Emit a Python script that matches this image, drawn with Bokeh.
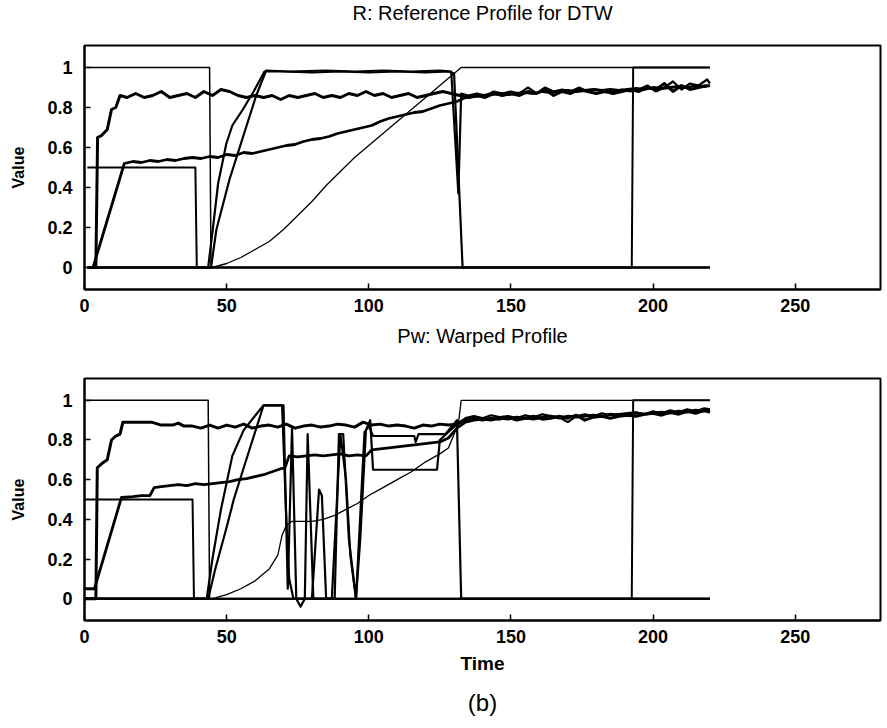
from bokeh.plotting import figure
from bokeh.layouts import column
from bokeh.models import Range1d, FixedTicker, Title, CustomJSTickFormatter
from bokeh.core.properties import value
from bokeh.embed import file_html
from bokeh.resources import INLINE

# ---------------- data: R (reference profile) ----------------
A_top_x = [1, 44, 44.5, 220]
A_top_y = [1, 1, 0, 0]
B_top_x = [1, 39, 39.5, 220]
B_top_y = [0.5, 0.5, 0, 0]
G_top_x = [1, 192.5, 193, 220]
G_top_y = [0, 0, 1, 1]
F_top_x = [1, 45, 50, 55, 60, 65, 70, 75, 80, 85, 90, 95, 100, 105, 110, 115, 120, 125, 130, 132.5, 220]
F_top_y = [0, 0, 0.02, 0.05, 0.09, 0.13, 0.19, 0.26, 0.33, 0.41, 0.48, 0.55, 0.61, 0.67, 0.73, 0.79, 0.85, 0.91, 0.97, 1.0, 1.0]
E1_top_x = [1, 43.5, 45.2, 47, 49.9, 52, 55.7, 59.5, 63.3, 70, 80, 90, 100, 110, 120, 128, 130, 133, 220]
E1_top_y = [0, 0, 0.2, 0.42, 0.62, 0.71, 0.79, 0.88, 0.98, 0.98, 0.975, 0.98, 0.975, 0.98, 0.975, 0.98, 0.97, 0, 0]
E2_top_x = [1, 44.5, 46.4, 51, 55.7, 60.4, 63.9, 72, 85, 95, 105, 115, 125, 129, 131.5, 132.5,
            135, 138, 141, 144, 147, 150, 153, 156, 159, 162, 165, 168, 171, 174, 177, 180,
            183, 186, 189, 192, 195, 198, 201, 204, 207, 210, 213, 216, 219, 220]
E2_top_y = [0, 0, 0.19, 0.44, 0.65, 0.86, 0.985, 0.98, 0.985, 0.98, 0.985, 0.98, 0.985, 0.98, 0.37, 0.87,
            0.86, 0.87, 0.86, 0.88, 0.87, 0.88, 0.87, 0.9, 0.87, 0.9, 0.88, 0.89, 0.88, 0.9, 0.88, 0.89,
            0.88, 0.88, 0.89, 0.88, 0.89, 0.91, 0.88, 0.9, 0.93, 0.89, 0.92, 0.91, 0.94, 0.92]
C_top_x = [1, 4, 4.6, 6, 8, 9.5, 11, 12.5,
           15, 18, 21, 24, 27, 30, 33, 36, 39, 42, 45, 48, 51, 54, 57, 60,
           63, 66, 69, 72, 75, 78, 81, 84, 87, 90, 93, 96, 99, 102, 105, 108, 111, 114, 117, 120, 123, 126, 129,
           132, 135, 138, 141, 144, 147, 150, 153, 156, 159, 162, 165, 168, 171, 174, 177, 180,
           183, 186, 189, 192, 195, 198, 201, 204, 207, 210, 213, 216, 219]
C_top_y = [0, 0, 0.65, 0.66, 0.69, 0.79, 0.8, 0.86,
           0.85, 0.87, 0.85, 0.86, 0.88, 0.85, 0.86, 0.87, 0.85, 0.88, 0.86, 0.89, 0.88, 0.86, 0.85, 0.86,
           0.85, 0.86, 0.84, 0.86, 0.85, 0.86, 0.87, 0.85, 0.86, 0.85, 0.87, 0.86, 0.88, 0.86, 0.87, 0.85, 0.86, 0.87, 0.85, 0.86, 0.87, 0.88, 0.87,
           0.86, 0.85, 0.86, 0.85, 0.87, 0.86, 0.87, 0.86, 0.88, 0.87, 0.89, 0.86, 0.88, 0.87, 0.89, 0.88, 0.87,
           0.88, 0.87, 0.88, 0.89, 0.88, 0.9, 0.89, 0.92, 0.88, 0.91, 0.89, 0.9, 0.91]
D_top_x = [1, 3, 14, 17, 20, 23, 26, 29, 32, 35, 38, 41, 44, 47, 50, 53, 56, 59, 62, 65, 68, 71, 74, 77, 80,
           83, 86, 89, 92, 95, 98, 101, 104, 107, 110, 113, 116, 119, 122, 125, 128, 131, 134,
           137, 140, 143, 146, 149, 152, 155, 158, 161, 164, 167, 170, 173, 176, 179, 182, 185, 188,
           191, 194, 197, 200, 203, 206, 209, 212, 215, 218, 220]
D_top_y = [0, 0, 0.52, 0.53, 0.525, 0.535, 0.53, 0.54, 0.535, 0.545, 0.55, 0.545, 0.555, 0.55, 0.565, 0.56, 0.575, 0.57, 0.58, 0.59, 0.6, 0.61, 0.615, 0.63, 0.64,
           0.645, 0.655, 0.67, 0.68, 0.69, 0.7, 0.71, 0.73, 0.745, 0.755, 0.765, 0.775, 0.78, 0.795, 0.81, 0.82, 0.83, 0.85,
           0.855, 0.86, 0.865, 0.87, 0.865, 0.87, 0.875, 0.87, 0.88, 0.875, 0.88, 0.885, 0.88, 0.885, 0.89, 0.885, 0.89, 0.885,
           0.89, 0.895, 0.89, 0.9, 0.895, 0.9, 0.905, 0.9, 0.91, 0.905, 0.91]

# ---------------- data: Pw (warped profile) ----------------
A_bot_x = [0, 43.5, 44, 220]
A_bot_y = [1, 1, 0, 0]
B_bot_x = [0, 38, 38.5, 220]
B_bot_y = [0.5, 0.5, 0, 0]
G_bot_x = [0, 192.5, 193, 220]
G_bot_y = [0, 0, 1, 1]
F_bot_x = [0, 45, 50, 55, 60, 65, 68, 69.5, 71, 73, 80, 84, 88, 92, 96, 100, 105, 110, 115, 120, 125, 128, 131.5, 132.5, 220]
F_bot_y = [0, 0, 0.02, 0.05, 0.09, 0.15, 0.22, 0.32, 0.37, 0.39, 0.39, 0.4, 0.42, 0.45, 0.48, 0.52, 0.56, 0.6, 0.64, 0.69, 0.73, 0.76, 0.88, 1.0, 1.0]
E1_bot_x = [0, 43, 45, 48, 52, 56, 61, 63, 70, 71.5, 73, 74.5, 76, 77.5, 78.5, 80.5, 88, 89.5, 91, 93, 95.5,
            98.5, 100, 101.5, 116, 116.5, 117.5, 127, 131, 132.5, 220]
E1_bot_y = [0, 0, 0.2, 0.45, 0.72, 0.85, 0.94, 0.975, 0.975, 0.05, 0.86, 0.0, -0.04, 0.0, 0.83, 0.0, 0.0, 0.83, 0.83, 0.3, 0.0,
            0.84, 0.87, 0.82, 0.82, 0.79, 0.83, 0.83, 0.9, 0.0, 0.0]
E2_bot_x = [0, 43.5, 46, 50, 52.5, 56, 60, 63, 69.5, 71, 72, 73.5, 80, 82.5, 83.5, 85, 87, 90, 92, 93.5, 95.5,
            97, 99, 100.5, 101.5, 124, 125, 128, 131,
            134, 137, 140, 143, 146, 149, 152, 155, 158, 161, 164, 167, 170, 173, 176, 179, 182, 185, 188,
            191, 194, 197, 200, 203, 206, 209, 212, 215, 218, 220]
E2_bot_y = [0, 0, 0.15, 0.36, 0.5, 0.66, 0.84, 0.975, 0.975, 0.4, 0.1, 0.0, 0.0, 0.55, 0.52, 0.0, 0.0, 0.83, 0.6, 0.22, 0.0,
            0.3, 0.85, 0.9, 0.65, 0.65, 0.8, 0.84, 0.88,
            0.91, 0.92, 0.91, 0.925, 0.915, 0.92, 0.91, 0.925, 0.915, 0.93, 0.92, 0.915, 0.89, 0.92, 0.93, 0.92, 0.935, 0.925, 0.93,
            0.935, 0.94, 0.93, 0.945, 0.935, 0.95, 0.94, 0.955, 0.945, 0.96, 0.955]
C_bot_x = [0, 4, 4.5, 6, 8, 9.5, 11, 12.5, 13.5, 20, 23.5, 27, 31, 33, 35,
           38, 41, 44, 47, 50, 53, 56, 59, 62, 65, 68, 71, 74, 77, 80, 83, 86, 89, 92, 95, 98,
           101, 104, 107, 110, 113, 116, 119, 122, 125, 128, 131, 134, 137, 140, 143, 146, 149, 152,
           155, 158, 161, 164, 167, 170, 173, 176, 179, 182, 185, 188, 191, 194, 197, 200, 203, 206,
           209, 212, 215, 218, 220]
C_bot_y = [0, 0, 0.66, 0.68, 0.7, 0.8, 0.82, 0.83, 0.89, 0.89, 0.89, 0.875, 0.875, 0.885, 0.87,
           0.87, 0.86, 0.875, 0.86, 0.875, 0.865, 0.88, 0.86, 0.87, 0.875, 0.865, 0.88, 0.86, 0.87, 0.875, 0.865, 0.87, 0.88, 0.875, 0.865, 0.89,
           0.875, 0.88, 0.87, 0.875, 0.87, 0.86, 0.875, 0.87, 0.88, 0.875, 0.88, 0.9, 0.91, 0.9, 0.91, 0.905, 0.915, 0.9,
           0.91, 0.92, 0.905, 0.91, 0.92, 0.91, 0.925, 0.9, 0.915, 0.92, 0.91, 0.92, 0.925, 0.92, 0.93, 0.935, 0.925, 0.94,
           0.93, 0.945, 0.935, 0.95, 0.94]
D_bot_x = [0, 3.5, 13, 17, 20, 23, 24.5, 27, 30, 33, 36, 39, 42, 45, 48, 51, 54, 57, 60, 63, 66, 69, 70.5,
           72, 75, 78, 81, 84, 87, 90, 93, 96, 99, 101, 104, 107, 110, 113, 116, 119, 122, 125, 128, 131, 134,
           137, 140, 143, 146, 149, 152, 155, 158, 161, 164, 167, 170, 173, 176, 179, 182, 185, 188,
           191, 194, 197, 200, 203, 206, 209, 212, 215, 218, 220]
D_bot_y = [0.05, 0.05, 0.51, 0.515, 0.52, 0.52, 0.56, 0.565, 0.57, 0.575, 0.57, 0.58, 0.575, 0.58, 0.585, 0.59, 0.6, 0.605, 0.615, 0.625, 0.64, 0.655, 0.66,
           0.72, 0.715, 0.72, 0.725, 0.72, 0.725, 0.73, 0.72, 0.725, 0.72, 0.75, 0.755, 0.76, 0.765, 0.77, 0.775, 0.78, 0.785, 0.79, 0.81, 0.86, 0.89,
           0.9, 0.905, 0.9, 0.91, 0.905, 0.915, 0.91, 0.905, 0.915, 0.92, 0.91, 0.92, 0.915, 0.92, 0.925, 0.92, 0.93, 0.925,
           0.93, 0.935, 0.93, 0.935, 0.94, 0.935, 0.945, 0.94, 0.95, 0.945, 0.95]

x_ticks = [0, 50, 100, 150, 200, 250]
y_ticks = [0, 0.2, 0.4, 0.6, 0.8, 1]
titles = ["R: Reference Profile for DTW", "Pw: Warped Profile"]
x_label = "Time"
y_label = "Value"
caption = "(b)"

FONT = "Liberation Sans"
X_RANGE = (0, 280)


def make_header(text, height):
    h = figure(width=887, height=height, x_range=Range1d(*X_RANGE), y_range=Range1d(0, 1),
               output_backend="svg", toolbar_location=None,
               min_border_left=84, min_border_right=7, min_border_top=0, min_border_bottom=0)
    h.axis.visible = False
    h.grid.visible = False
    h.outline_line_color = None
    h.text(x=[sum(X_RANGE) / 2], y=[0.5], text=[text], text_align="center", text_baseline="middle",
           text_font=value(FONT), text_font_size="20px", text_color="black")
    return h


def make_fig(height, top, bottom):
    p = figure(width=887, height=height, x_range=Range1d(*X_RANGE), y_range=Range1d(-0.11, 1.11),
               output_backend="svg", toolbar_location=None,
               min_border_left=84, min_border_right=7, min_border_top=top, min_border_bottom=bottom)
    p.grid.visible = False
    p.outline_line_color = "black"
    p.outline_line_width = 2
    p.outline_line_alpha = 1
    fmt = CustomJSTickFormatter(code="return String(tick);")
    xa, ya = p.xaxis[0], p.yaxis[0]
    for ax, tk in ((xa, x_ticks), (ya, y_ticks)):
        ax.ticker = FixedTicker(ticks=tk)
        ax.formatter = fmt
        ax.major_tick_in = 6
        ax.major_tick_out = 0
        ax.major_tick_line_width = 1.5
        ax.major_tick_line_color = "black"
        ax.minor_tick_line_color = None
        ax.axis_line_width = 2
        ax.axis_line_color = "black"
        ax.major_label_text_font = FONT
        ax.major_label_text_font_style = "bold"
        ax.major_label_text_font_size = "18px"
        ax.major_label_text_color = "black"
    xa.major_label_standoff = 9
    ya.major_label_standoff = 12
    ya.axis_label = y_label
    ya.axis_label_text_font = FONT
    ya.axis_label_text_font_size = "16px"
    ya.axis_label_text_font_style = "bold"
    ya.axis_label_text_color = "black"
    ya.axis_label_standoff = 17
    return p, xa, ya


def draw(p, series):
    for xs, ys, w in series:
        p.line(xs, ys, line_color="black", line_width=w, line_join="round")


h1 = make_header(titles[0], 24)
p1, xa1, ya1 = make_fig(299, 21, 34)
draw(p1, [
    (A_top_x, A_top_y, 1.5), (B_top_x, B_top_y, 2), (G_top_x, G_top_y, 2), (F_top_x, F_top_y, 1.3),
    (E1_top_x, E1_top_y, 2.2), (E2_top_x, E2_top_y, 2.2), (D_top_x, D_top_y, 2.8), (C_top_x, C_top_y, 3),
])

h2 = make_header(titles[1], 24)
p2, xa2, ya2 = make_fig(381, 31, 108)
xa2.axis_label = x_label
xa2.axis_label_text_font = FONT
xa2.axis_label_text_font_size = "19px"
xa2.axis_label_text_font_style = "bold"
xa2.axis_label_text_color = "black"
xa2.axis_label_standoff = 7
p2.add_layout(Title(text=caption, align="center", text_font=FONT, text_font_size="24px",
                    text_font_style="normal", text_color="black", standoff=20), "below")
draw(p2, [
    (A_bot_x, A_bot_y, 1.5), (B_bot_x, B_bot_y, 2), (G_bot_x, G_bot_y, 2), (F_bot_x, F_bot_y, 1.3),
    (E1_bot_x, E1_bot_y, 2.2), (E2_bot_x, E2_bot_y, 2.2), (D_bot_x, D_bot_y, 2.8), (C_bot_x, C_bot_y, 3),
])

layout = column(h1, p1, h2, p2, spacing=0)
open("out.html", "w").write(file_html(layout, INLINE))
